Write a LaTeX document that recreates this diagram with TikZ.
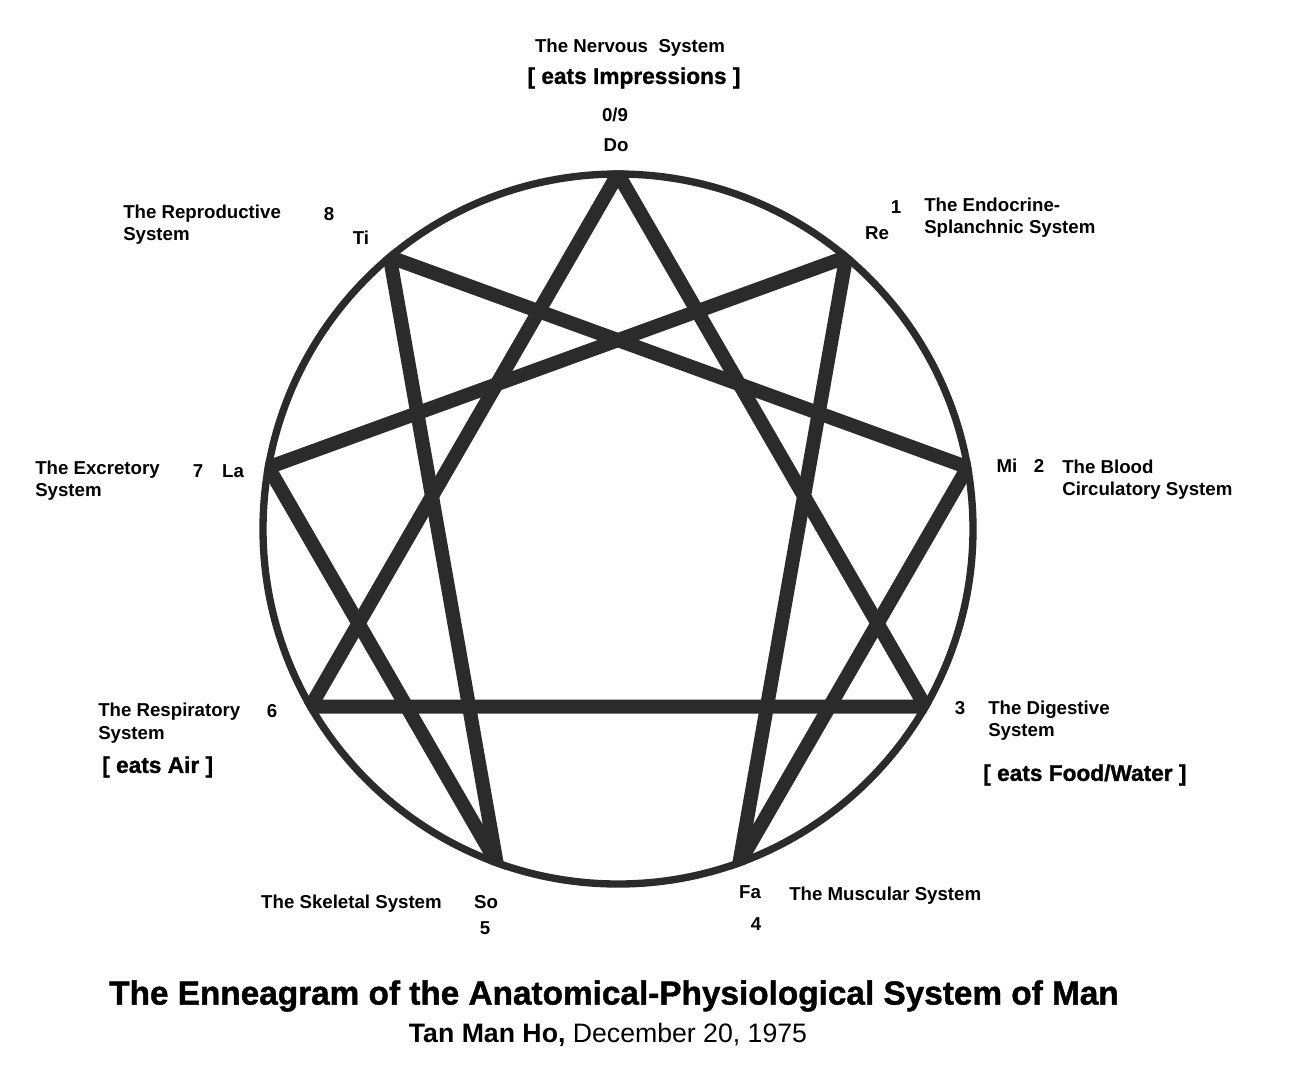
\documentclass[tikz,border=0pt]{standalone}
\usepackage{fontspec}
\setmainfont{Liberation Sans}
\newfontfamily\heavyfont{Liberation Sans Bold}[FakeBold=1.2]
\usepackage{tikz}
\usetikzlibrary{calc}
\definecolor{inkgray}{HTML}{2B2B2B}
\tikzstyle{lbl} = [font=\bfseries\fontsize{14}{16}\selectfont, inner sep=0pt]
\tikzstyle{sys} = [lbl, anchor=west, align=left]
\tikzstyle{eats} = [font=\heavyfont\fontsize{17}{19}\selectfont, inner sep=0pt]

\begin{document}
\begin{tikzpicture}[x=0.75pt,y=-0.75pt]
\useasboundingbox (0,0) rectangle (1310,1076);

% Centre and the nine points
\coordinate (c) at (618,529);
\foreach \i in {0,...,8}
  \coordinate (p\i) at ({618+355*sin(40*\i)},{529-355*cos(40*\i)});

% Inner figure
\begin{scope}
\clip (c) circle [radius=269pt];
\draw[inkgray, line width=10.5pt, line join=miter] (p0) -- (p3) -- (p6) -- cycle;
\draw[inkgray, line width=10.5pt, line join=miter] (p1) -- (p4) -- (p2) -- (p8) -- (p5) -- (p7) -- cycle;
\end{scope}

% Circle
\draw[inkgray, line width=5.5pt] (c) circle [radius=266.25pt];

% Point 9 / 0
\node[lbl] (nervous) at (630,48) {The Nervous\ \ System};
\node[eats] (impr) at (634,78) {[ eats Impressions ]};
\node[lbl] (n9) at (615,115) {0/9};
\node[lbl] (do) at (616,145) {Do};

% Point 1
\node[lbl] (n1) at (896,207) {1};
\node[lbl] (re) at (877,233) {Re};
\node[sys] (endo) at (924,218) {The Endocrine-\\[0.5pt]Splanchnic System};

% Point 2
\node[lbl] (mi) at (1007,466) {Mi};
\node[lbl] (n2) at (1039,466) {2};
\node[sys] (blood) at (1062,480) {The Blood\\[0.5pt]Circulatory System};

% Point 3
\node[lbl] (n3) at (960,708) {3};
\node[sys] (digest) at (988,721) {The Digestive\\[0.5pt]System};
\node[eats, anchor=west] (food) at (983,775) {[ eats Food/Water ]};

% Point 4
\node[lbl] (fa) at (750,892) {Fa};
\node[lbl] (n4) at (756,924) {4};
\node[sys] (muscle) at (789,896) {The Muscular System};

% Point 5
\node[lbl] (so) at (486,902) {So};
\node[lbl] (n5) at (485,928) {5};
\node[lbl, anchor=east] (skel) at (442,904) {The Skeletal System};

% Point 6
\node[lbl] (n6) at (272,711) {6};
\node[sys] (resp) at (98,723) {The Respiratory\\[1pt]System};
\node[eats, anchor=west] (air) at (102,767) {[ eats Air ]};

% Point 7
\node[lbl] (n7) at (198,471) {7};
\node[lbl] (la) at (233,471) {La};
\node[sys] (excr) at (35,481) {The Excretory\\[0.5pt]System};

% Point 8
\node[lbl] (n8) at (329,214) {8};
\node[lbl] (ti) at (361,238) {Ti};
\node[sys] (repro) at (123,225) {The Reproductive\\[0.5pt]System};

% Title
\node[font=\heavyfont\fontsize{25}{28}\selectfont, inner sep=0pt] (title) at (614,996)
  {The Enneagram of the Anatomical-Physiological System of Man};
\node[font=\fontsize{20}{24}\selectfont, inner sep=0pt] (author) at (608,1035)
  {\textbf{Tan Man Ho,} December 20, 1975};
\end{tikzpicture}
\end{document}
